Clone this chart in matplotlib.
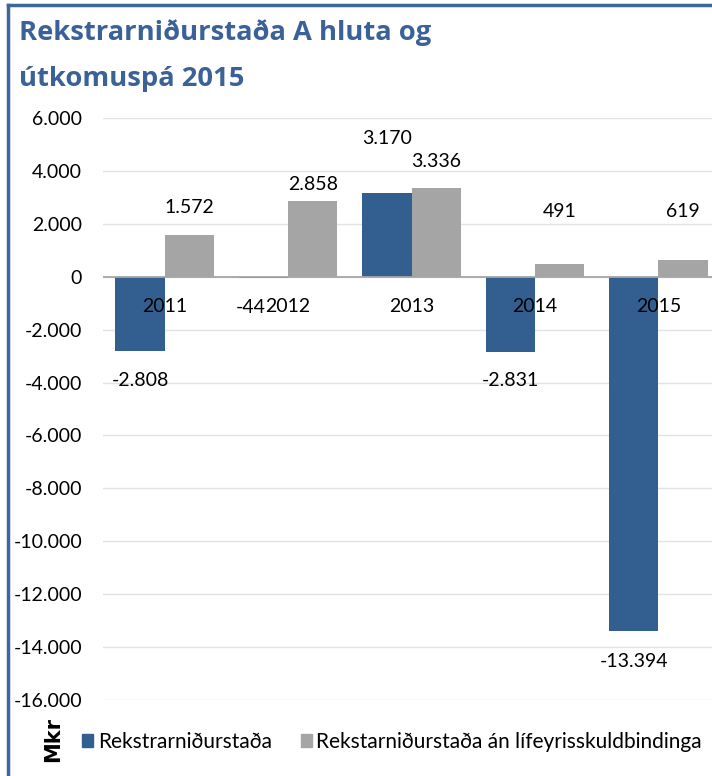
import numpy as np
import matplotlib.pyplot as plt
from matplotlib.lines import Line2D
from matplotlib.patches import Patch

years = ["2011", "2012", "2013", "2014", "2015"]
rekstur = [-2808, -44, 3170, -2831, -13394]
rekstur_an = [1572, 2858, 3336, 491, 619]
yticks = [6000, 4000, 2000, 0, -2000, -4000, -6000, -8000, -10000, -12000, -14000, -16000]

# label offsets in pixels (dx, dy), Excel moved some labels around
off_rekstur = [(0, -29), (-13, -30), (0, 54), (0, -29), (0, -30)]
off_an = [(0, 28), (0, 17), (0, 27), (0, 52), (0, 49)]

BLUE = "#335E90"
GRAY = "#A5A5A5"
TITLE = "#3A6298"


def fmt(v):
    return f"{v:,}".replace(",", ".")


plt.rcParams["font.family"] = ["Lato", "DejaVu Sans"]
fig = plt.figure(figsize=(7.12, 7.76), dpi=100)
W, H = 712, 776

ax = fig.add_axes([103 / W, 76 / H, 617 / W, 582 / H])
x = np.arange(len(years))
w = 0.4
ax.bar(x - w / 2, rekstur, w, color=BLUE, zorder=3)
ax.bar(x + w / 2, rekstur_an, w, color=GRAY, zorder=3)

ax.set_xlim(-0.5, 4.5)
ax.set_ylim(-16000, 6000)
ax.set_yticks(yticks)
ax.set_yticklabels([fmt(v) for v in yticks], fontsize=14)
ax.tick_params(axis="y", length=0, pad=15)
ax.set_xticks([])
ax.grid(axis="y", color="#E3E3E3", linewidth=1, zorder=0)
ax.axhline(0, color="#A6A6A6", linewidth=1.3, zorder=4)
for s in ax.spines.values():
    s.set_visible(False)

px = 0.72  # pixels -> points
for i, v in enumerate(rekstur):
    dx, dy = off_rekstur[i]
    ax.annotate(fmt(v), (x[i] - w / 2, v), xytext=(dx * px, dy * px),
                textcoords="offset points", ha="center", va="center", fontsize=14, zorder=5)
for i, v in enumerate(rekstur_an):
    dx, dy = off_an[i]
    ax.annotate(fmt(v), (x[i] + w / 2, v), xytext=(dx * px, dy * px),
                textcoords="offset points", ha="center", va="center", fontsize=14, zorder=5)
for i, yr in enumerate(years):
    ax.annotate(yr, (x[i], 0), xytext=(0, -30 * px), textcoords="offset points",
                ha="center", va="center", fontsize=14, zorder=5)

fig.text(19 / W, 1 - 40 / H, "Rekstrarniðurstaða A hluta og", color=TITLE,
         fontsize=19.7, fontweight="bold", family="Open Sans", va="baseline", ha="left")
fig.text(19 / W, 1 - 86 / H, "útkomuspá 2015", color=TITLE,
         fontsize=19.7, fontweight="bold", family="Open Sans", va="baseline", ha="left")

handles = [Patch(color=BLUE), Patch(color=GRAY)]
fig.legend(handles, ["Rekstrarniðurstaða", "Rekstarniðurstaða án lífeyrisskuldbindinga"],
           loc="center left", bbox_to_anchor=(82 / W, 1 - 742 / H), ncol=2, frameon=False,
           fontsize=15, handlelength=0.55, handleheight=0.55, handletextpad=0.2,
           columnspacing=1.4, borderaxespad=0, borderpad=0)
fig.text(53 / W, 1 - 740 / H, "Mkr", rotation=90, fontsize=15, fontweight="bold",
         family="DejaVu Sans", ha="center", va="center")

# outer frame (top and left)
fig.add_artist(Line2D([8 / W, 1], [1 - 5 / H, 1 - 5 / H], color="#3E6699", linewidth=2.5))
fig.add_artist(Line2D([8 / W, 8 / W], [0, 1 - 5 / H], color="#3E6699", linewidth=2.5))

fig.savefig("out.png", dpi=100)
